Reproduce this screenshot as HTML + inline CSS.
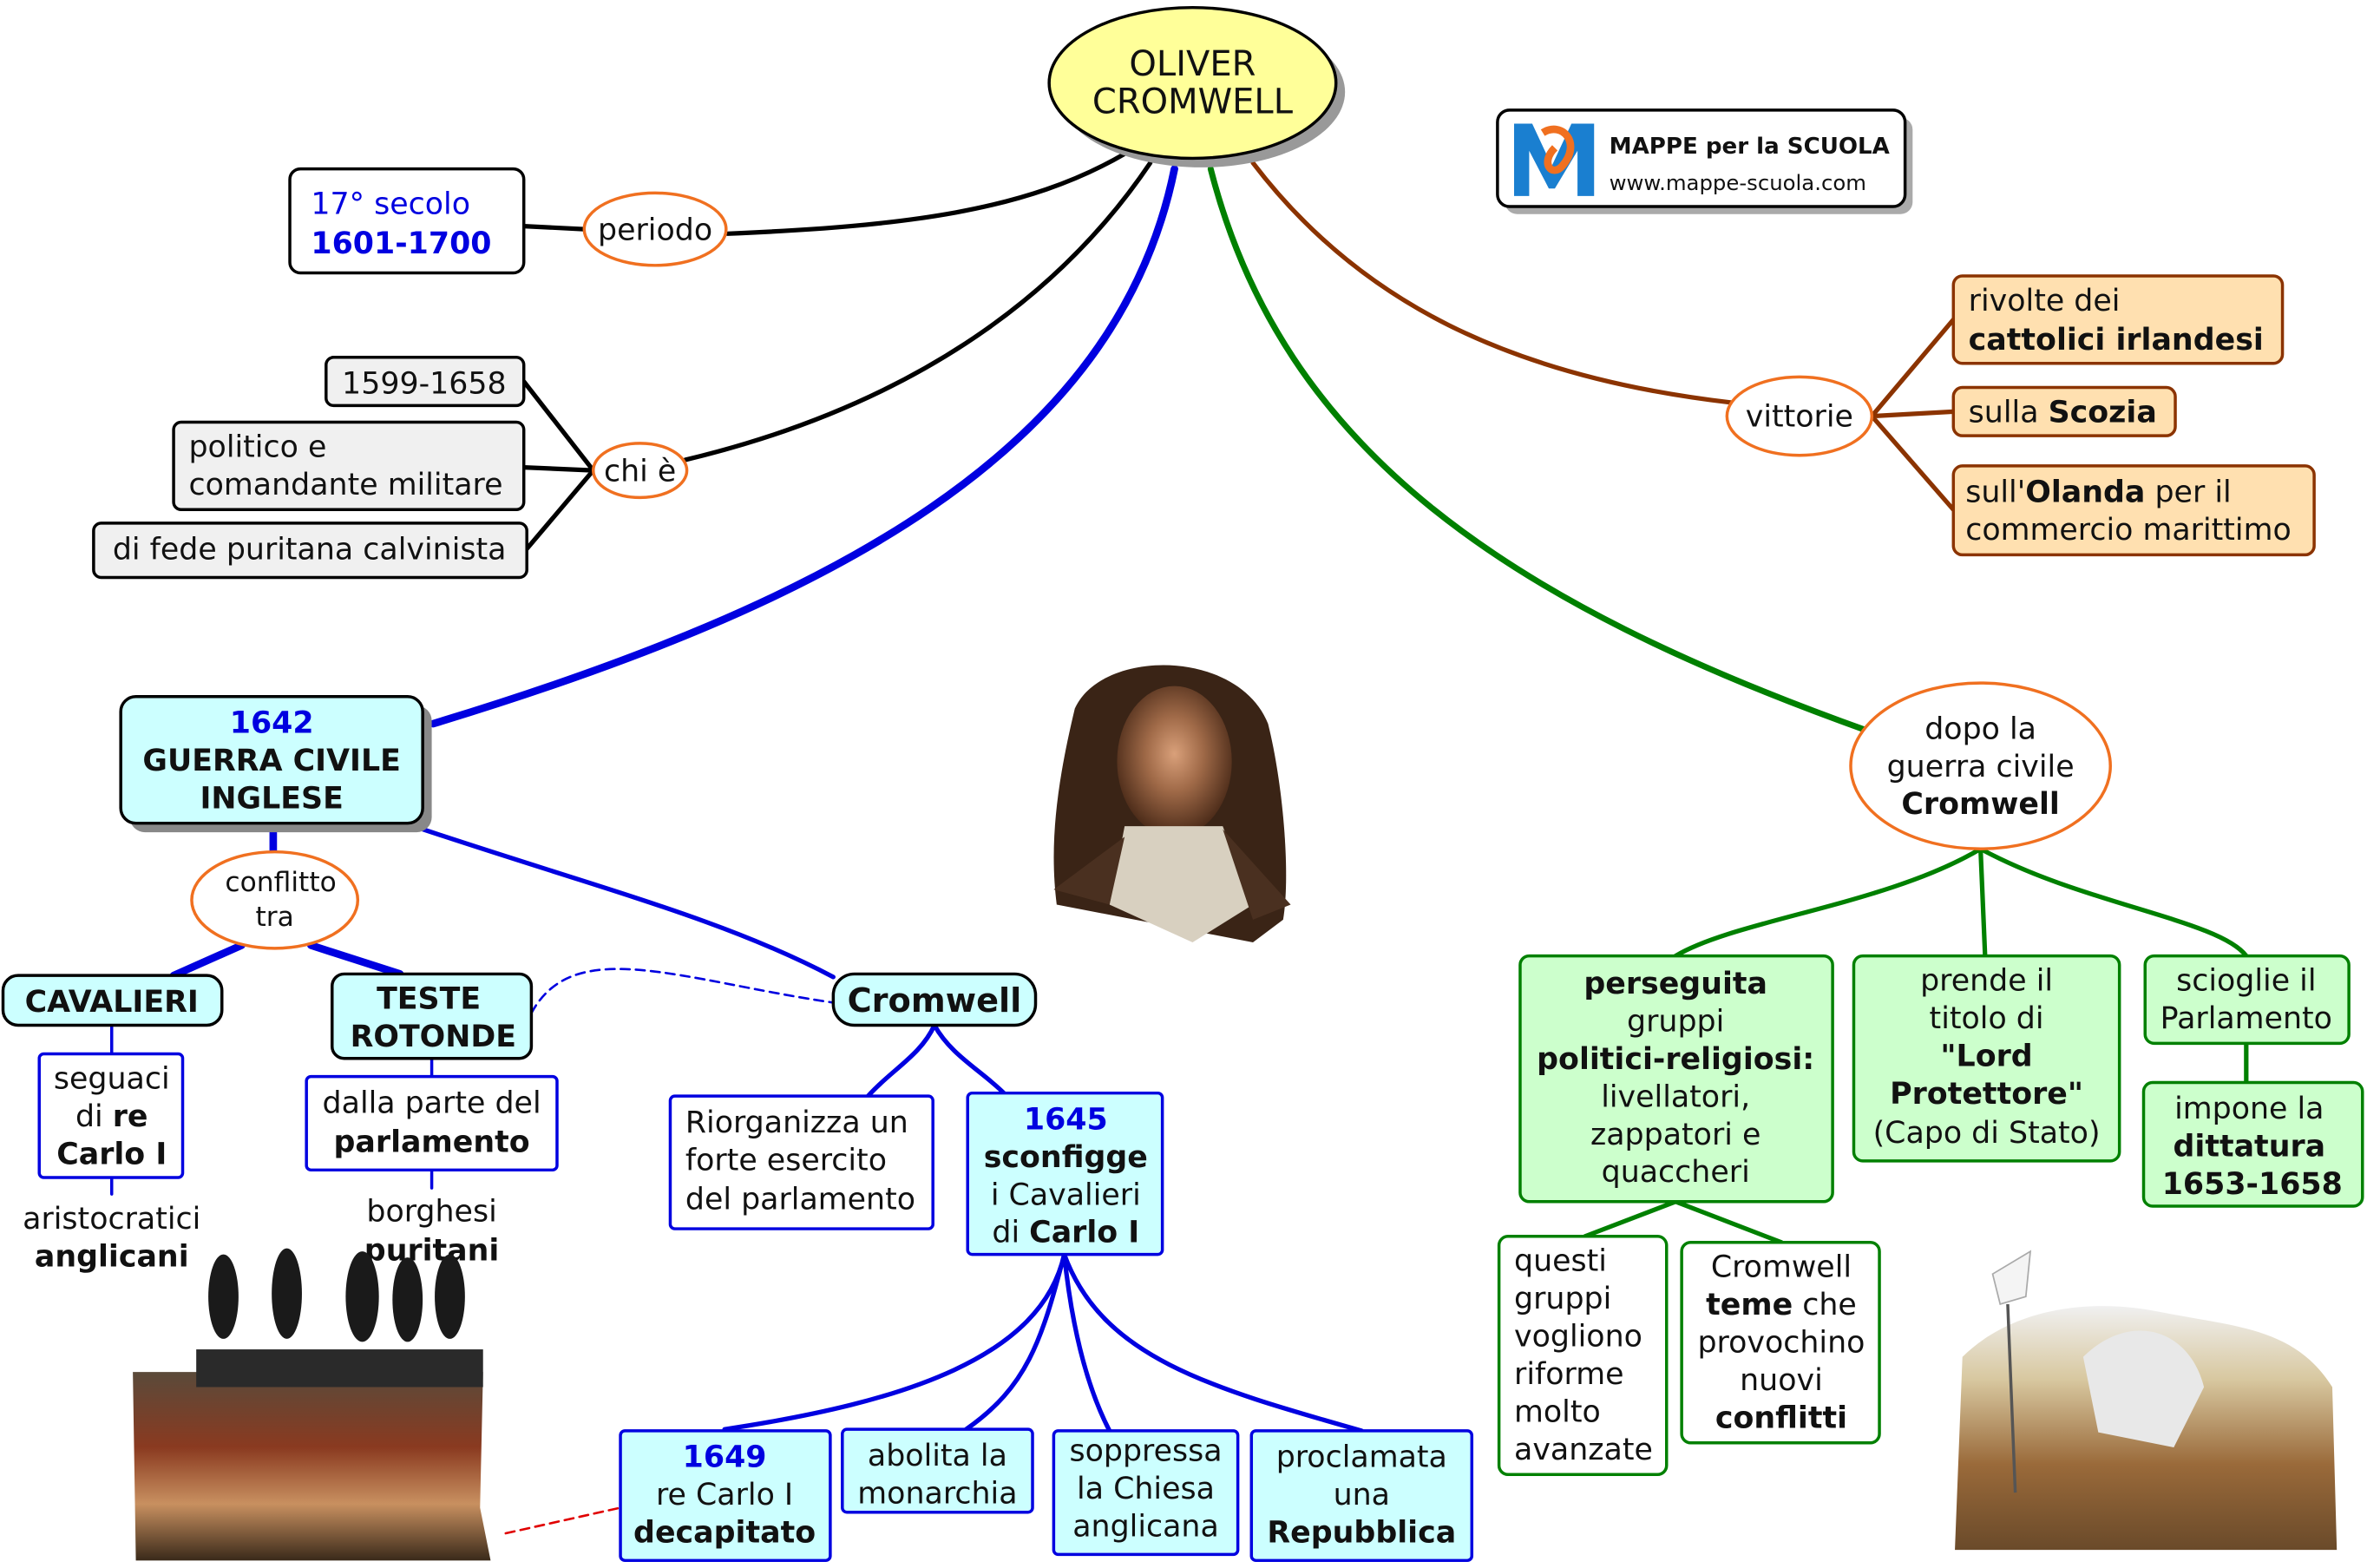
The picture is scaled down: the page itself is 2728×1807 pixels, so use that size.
<!DOCTYPE html>
<html><head><meta charset="utf-8"><style>
html,body{margin:0;padding:0;background:#fff;}
svg{display:block;}
text{font-family:"DejaVu Sans","Liberation Sans",sans-serif;font-size:20px;fill:#111;}
.b{font-weight:bold;}
.bl{fill:#0000e0;}
</style></head><body>
<svg width="2728" height="1807" viewBox="0 0 1568 1040" preserveAspectRatio="none" xmlns="http://www.w3.org/2000/svg">
<defs>
<radialGradient id="face" cx="50%" cy="45%" r="55%"><stop offset="0" stop-color="#d9a07a"/><stop offset="0.45" stop-color="#a06a48"/><stop offset="1" stop-color="#4a2a18"/></radialGradient>
<linearGradient id="pic1" x1="0" y1="0" x2="0" y2="1"><stop offset="0" stop-color="#5a4a3a"/><stop offset="0.4" stop-color="#8a3a20"/><stop offset="0.7" stop-color="#c89060"/><stop offset="1" stop-color="#3a2a1a"/></linearGradient>
<linearGradient id="pic2" x1="0" y1="0" x2="0" y2="1"><stop offset="0" stop-color="#f0f0f0"/><stop offset="0.3" stop-color="#d8c8a0"/><stop offset="0.65" stop-color="#9a6a3a"/><stop offset="1" stop-color="#6a4a2a"/></linearGradient>
</defs>

<g fill="none" stroke-linecap="round">
<path d="M745,102 C680,140 600,150 482,155" stroke="#000" stroke-width="3"/>
<path d="M762,108 C700,200 600,270 454,305" stroke="#000" stroke-width="3"/>
<path d="M778,112 C740,300 550,400 287,480" stroke="#0000e0" stroke-width="5"/>
<path d="M802,112 C850,300 1000,400 1238,485" stroke="#008000" stroke-width="4"/>
<path d="M830,108 C900,200 1000,250 1147,267" stroke="#8b3300" stroke-width="3"/>
<path d="M387,152 L347,150" stroke="#000" stroke-width="3"/>
<path d="M393,312 L347,253 M393,312 L347,310 M393,312 L349,364" stroke="#000" stroke-width="3"/>
<path d="M1240,276 L1294,212 M1240,276 L1294,273 M1240,276 L1294,338" stroke="#8b3300" stroke-width="3"/>
<path d="M181,546 L181,565" stroke="#0000e0" stroke-width="5"/>
<path d="M160,627 L115,647 M206,627 L265,646" stroke="#0000e0" stroke-width="5"/>
<path d="M280,550 C400,590 480,610 552,648" stroke="#0000e0" stroke-width="3"/>
<path d="M352,672 C380,620 450,650 552,665" stroke="#0000e0" stroke-width="1.5" stroke-dasharray="6,4"/>
<path d="M74,680 L74,699 M74,781 L74,792 M286,702 L286,714 M286,776 L286,788" stroke="#0000e0" stroke-width="2"/>
<path d="M619,680 C610,700 590,710 575,727 M619,680 C630,700 650,710 665,725" stroke="#0000e0" stroke-width="3"/>
<path d="M705,832 C690,900 600,930 480,948 M705,832 C690,890 680,920 640,948 M705,832 C710,880 720,920 735,949 M705,832 C730,900 800,920 902,949" stroke="#0000e0" stroke-width="3"/>
<path d="M335,1017 L411,1000" stroke="#e00000" stroke-width="1.5" stroke-dasharray="6,4"/>
<path d="M1312,563 C1250,600 1150,610 1110,634 M1312,563 L1315,634 M1312,563 C1380,600 1470,610 1488,634" stroke="#008000" stroke-width="3"/>
<path d="M1488,692 L1488,718" stroke="#008000" stroke-width="3"/>
<path d="M1110,797 L1050,820 M1110,797 L1180,824" stroke="#008000" stroke-width="3"/>
</g>

<ellipse cx="796" cy="61" rx="95" ry="50" fill="#999"/>
<ellipse cx="790" cy="55" rx="95" ry="50" fill="#ffff99" stroke="#000" stroke-width="2"/>
<text x="790" y="50" text-anchor="middle" style="font-size:23px">OLIVER</text>
<text x="790" y="75" text-anchor="middle" style="font-size:23px">CROMWELL</text>

<rect x="997" y="78" width="270" height="64" rx="8" fill="#aaa"/>
<rect x="992" y="73" width="270" height="64" rx="8" fill="#fff" stroke="#000" stroke-width="2"/>
<path d="M1003,130 L1003,82 L1015,82 L1028,110 L1041,82 L1056,82 L1056,130 L1045,130 L1045,100 L1030,125 L1026,125 L1013,100 L1013,130 Z" fill="#1a7fd0"/>
<path d="M1022,88 C1035,80 1048,95 1035,110 C1028,118 1020,108 1030,98" fill="none" stroke="#f07020" stroke-width="5"/>
<text x="1066" y="102" class="b" style="font-size:15px">MAPPE per la SCUOLA</text>
<text x="1066" y="126" style="font-size:14px">www.mappe-scuola.com</text>

<rect x="192" y="112" width="155" height="69" rx="7" fill="#fff" stroke="#000" stroke-width="2"/>
<text x="206" y="142" class="bl">17° secolo</text>
<text x="206" y="168" class="b bl">1601-1700</text>
<ellipse cx="434" cy="152" rx="47" ry="24" fill="#fff" stroke="#f07020" stroke-width="2"/>
<text x="434" y="159" text-anchor="middle">periodo</text>

<ellipse cx="424" cy="312" rx="31" ry="18" fill="#fff" stroke="#f07020" stroke-width="2"/>
<text x="424" y="319" text-anchor="middle">chi è</text>
<rect x="216" y="237" width="131" height="32" rx="5" fill="#f0f0f0" stroke="#000" stroke-width="2"/>
<text x="281" y="261" text-anchor="middle">1599-1658</text>
<rect x="115" y="280" width="232" height="58" rx="5" fill="#f0f0f0" stroke="#000" stroke-width="2"/>
<text x="125" y="303">politico e</text>
<text x="125" y="328">comandante militare</text>
<rect x="62" y="347" width="287" height="36" rx="5" fill="#f0f0f0" stroke="#000" stroke-width="2"/>
<text x="205" y="371" text-anchor="middle">di fede puritana calvinista</text>

<ellipse cx="1192" cy="276" rx="48" ry="26" fill="#fff" stroke="#f07020" stroke-width="2"/>
<text x="1192" y="283" text-anchor="middle">vittorie</text>
<rect x="1294" y="183" width="218" height="58" rx="6" fill="#ffe0b0" stroke="#8b3300" stroke-width="2"/>
<text x="1304" y="206">rivolte dei</text>
<text x="1304" y="232" class="b">cattolici irlandesi</text>
<rect x="1294" y="257" width="147" height="32" rx="6" fill="#ffe0b0" stroke="#8b3300" stroke-width="2"/>
<text x="1304" y="280">sulla <tspan class="b">Scozia</tspan></text>
<rect x="1294" y="309" width="239" height="59" rx="6" fill="#ffe0b0" stroke="#8b3300" stroke-width="2"/>
<text x="1302" y="333">sull'<tspan class="b">Olanda</tspan> per il</text>
<text x="1302" y="358">commercio marittimo</text>

<rect x="86" y="468" width="200" height="84" rx="10" fill="#888"/>
<rect x="80" y="462" width="200" height="84" rx="10" fill="#ccffff" stroke="#000" stroke-width="2"/>
<text x="180" y="486" text-anchor="middle" class="b bl">1642</text>
<text x="180" y="511" text-anchor="middle" class="b">GUERRA CIVILE</text>
<text x="180" y="536" text-anchor="middle" class="b">INGLESE</text>

<ellipse cx="182" cy="597" rx="55" ry="32" fill="#fff" stroke="#f07020" stroke-width="2"/>
<text x="186" y="591" text-anchor="middle" style="font-size:18px">conflitto</text>
<text x="182" y="614" text-anchor="middle" style="font-size:18px">tra</text>

<rect x="2" y="647" width="145" height="33" rx="10" fill="#ccffff" stroke="#000" stroke-width="2"/>
<text x="74" y="671" text-anchor="middle" class="b">CAVALIERI</text>
<rect x="220" y="646" width="132" height="56" rx="8" fill="#ccffff" stroke="#000" stroke-width="2"/>
<text x="284" y="669" text-anchor="middle" class="b">TESTE</text>
<text x="287" y="694" text-anchor="middle" class="b">ROTONDE</text>
<rect x="552" y="646" width="134" height="34" rx="14" fill="#ccffff" stroke="#000" stroke-width="2"/>
<text x="619" y="671" text-anchor="middle" class="b" style="font-size:22px">Cromwell</text>

<rect x="26" y="699" width="95" height="82" rx="3" fill="#fff" stroke="#0000e0" stroke-width="2"/>
<text x="74" y="722" text-anchor="middle">seguaci</text>
<text x="74" y="747" text-anchor="middle">di <tspan class="b">re</tspan></text>
<text x="74" y="772" text-anchor="middle" class="b">Carlo I</text>
<text x="74" y="815" text-anchor="middle">aristocratici</text>
<text x="74" y="840" text-anchor="middle" class="b">anglicani</text>

<rect x="203" y="714" width="166" height="62" rx="3" fill="#fff" stroke="#0000e0" stroke-width="2"/>
<text x="286" y="738" text-anchor="middle">dalla parte del</text>
<text x="286" y="764" text-anchor="middle" class="b">parlamento</text>
<text x="286" y="810" text-anchor="middle">borghesi</text>
<text x="286" y="836" text-anchor="middle" class="b">puritani</text>

<rect x="444" y="727" width="174" height="88" rx="3" fill="#fff" stroke="#0000e0" stroke-width="2"/>
<text x="454" y="751">Riorganizza un</text>
<text x="454" y="776">forte esercito</text>
<text x="454" y="802">del parlamento</text>

<rect x="641" y="725" width="129" height="107" rx="3" fill="#ccffff" stroke="#0000e0" stroke-width="2"/>
<text x="706" y="749" text-anchor="middle" class="b bl">1645</text>
<text x="706" y="774" text-anchor="middle" class="b">sconfigge</text>
<text x="706" y="799" text-anchor="middle">i Cavalieri</text>
<text x="706" y="824" text-anchor="middle">di <tspan class="b">Carlo I</tspan></text>

<rect x="411" y="949" width="139" height="86" rx="3" fill="#ccffff" stroke="#0000e0" stroke-width="2"/>
<text x="480" y="973" text-anchor="middle" class="b bl">1649</text>
<text x="480" y="998" text-anchor="middle">re Carlo I</text>
<text x="480" y="1023" text-anchor="middle" class="b">decapitato</text>
<rect x="558" y="948" width="126" height="55" rx="3" fill="#ccffff" stroke="#0000e0" stroke-width="2"/>
<text x="621" y="972" text-anchor="middle">abolita la</text>
<text x="621" y="997" text-anchor="middle">monarchia</text>
<rect x="698" y="949" width="122" height="82" rx="3" fill="#ccffff" stroke="#0000e0" stroke-width="2"/>
<text x="759" y="969" text-anchor="middle">soppressa</text>
<text x="759" y="994" text-anchor="middle">la Chiesa</text>
<text x="759" y="1019" text-anchor="middle">anglicana</text>
<rect x="829" y="949" width="146" height="86" rx="3" fill="#ccffff" stroke="#0000e0" stroke-width="2"/>
<text x="902" y="973" text-anchor="middle">proclamata</text>
<text x="902" y="998" text-anchor="middle">una</text>
<text x="902" y="1023" text-anchor="middle" class="b">Repubblica</text>

<ellipse cx="1312" cy="508" rx="86" ry="55" fill="#fff" stroke="#f07020" stroke-width="2"/>
<text x="1312" y="490" text-anchor="middle">dopo la</text>
<text x="1312" y="515" text-anchor="middle">guerra civile</text>
<text x="1312" y="540" text-anchor="middle" class="b">Cromwell</text>

<rect x="1007" y="634" width="207" height="163" rx="6" fill="#ccffcc" stroke="#008000" stroke-width="2"/>
<text x="1110" y="659" text-anchor="middle" class="b">perseguita</text>
<text x="1110" y="684" text-anchor="middle">gruppi</text>
<text x="1110" y="709" text-anchor="middle" class="b">politici-religiosi:</text>
<text x="1110" y="734" text-anchor="middle">livellatori,</text>
<text x="1110" y="759" text-anchor="middle">zappatori e</text>
<text x="1110" y="784" text-anchor="middle">quaccheri</text>
<rect x="1228" y="634" width="176" height="136" rx="6" fill="#ccffcc" stroke="#008000" stroke-width="2"/>
<text x="1316" y="657" text-anchor="middle">prende il</text>
<text x="1316" y="682" text-anchor="middle">titolo di</text>
<text x="1316" y="707" text-anchor="middle" class="b">"Lord</text>
<text x="1316" y="732" text-anchor="middle" class="b">Protettore"</text>
<text x="1316" y="758" text-anchor="middle">(Capo di Stato)</text>
<rect x="1421" y="634" width="135" height="58" rx="6" fill="#ccffcc" stroke="#008000" stroke-width="2"/>
<text x="1488" y="657" text-anchor="middle">scioglie il</text>
<text x="1488" y="682" text-anchor="middle">Parlamento</text>
<rect x="1420" y="718" width="145" height="82" rx="6" fill="#ccffcc" stroke="#008000" stroke-width="2"/>
<text x="1490" y="742" text-anchor="middle">impone la</text>
<text x="1490" y="767" text-anchor="middle" class="b">dittatura</text>
<text x="1492" y="792" text-anchor="middle" class="b">1653-1658</text>

<rect x="993" y="820" width="111" height="158" rx="6" fill="#fff" stroke="#008000" stroke-width="2"/>
<text x="1003" y="843">questi</text>
<text x="1003" y="868">gruppi</text>
<text x="1003" y="893">vogliono</text>
<text x="1003" y="918">riforme</text>
<text x="1003" y="943">molto</text>
<text x="1003" y="968">avanzate</text>
<rect x="1114" y="824" width="131" height="133" rx="6" fill="#fff" stroke="#008000" stroke-width="2"/>
<text x="1180" y="847" text-anchor="middle">Cromwell</text>
<text x="1180" y="872" text-anchor="middle"><tspan class="b">teme</tspan> che</text>
<text x="1180" y="897" text-anchor="middle">provochino</text>
<text x="1180" y="922" text-anchor="middle">nuovi</text>
<text x="1180" y="947" text-anchor="middle" class="b">conflitti</text>

<!-- portrait -->
<path d="M712,470 C730,430 820,430 840,480 C850,520 855,580 850,610 L830,625 L700,600 C695,560 700,520 712,470 Z" fill="#3a2416"/>
<ellipse cx="778" cy="505" rx="38" ry="50" fill="url(#face)"/>
<path d="M745,548 L810,548 L830,600 L790,625 L735,600 Z" fill="#d8d0c0"/>
<path d="M698,590 L745,555 L735,600 Z M855,600 L810,550 L830,610 Z" fill="#4a3020"/>
<!-- bottom-left picture -->
<path d="M88,910 L320,910 L318,1000 L325,1035 L90,1035 Z" fill="url(#pic1)"/>
<rect x="130" y="895" width="190" height="25" fill="#2a2a2a"/>
<g fill="#1a1a1a">
<ellipse cx="148" cy="860" rx="10" ry="28"/><ellipse cx="190" cy="858" rx="10" ry="30"/>
<ellipse cx="240" cy="860" rx="11" ry="30"/><ellipse cx="270" cy="862" rx="10" ry="28"/><ellipse cx="298" cy="860" rx="10" ry="28"/>
</g>
<!-- bottom-right picture -->
<path d="M1300,900 C1330,870 1380,860 1430,870 C1480,880 1520,880 1545,920 L1548,1028 L1295,1028 Z" fill="url(#pic2)"/>
<path d="M1380,900 C1410,870 1450,880 1460,920 L1440,960 L1390,950 Z" fill="#e8e8e8"/>
<path d="M1320,845 L1345,830 L1342,860 L1325,865 Z" fill="#f4f4f4" stroke="#aaa"/>
<path d="M1330,865 L1335,990" stroke="#555" stroke-width="2"/>
</svg>
</body></html>
